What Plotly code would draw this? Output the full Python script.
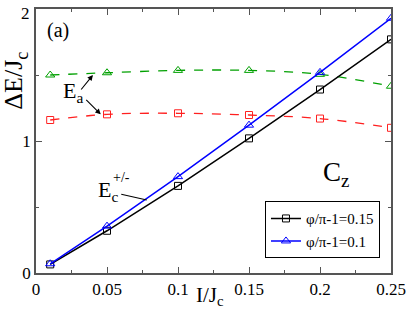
import plotly.graph_objects as go

x_vals = [0.01, 0.05, 0.1, 0.15, 0.2, 0.25]
ec_015 = [0.065, 0.32, 0.66, 1.02, 1.39, 1.77]
ec_01 = [0.07, 0.355, 0.73, 1.12, 1.52, 1.93]
ea_01 = [1.50, 1.517, 1.535, 1.535, 1.505, 1.415]
ea_015 = [1.159, 1.202, 1.21, 1.197, 1.17, 1.10]
legend_names = ["φ/π-1=0.15", "φ/π-1=0.1"]
y_ticks = [0, 1, 2]

FONT = "Liberation Serif, Times New Roman, DejaVu Serif, serif"

fig = go.Figure()
fig.add_trace(go.Scatter(x=x_vals, y=ea_01, mode="lines+markers", showlegend=False,
                         line=dict(color="#00A000", width=1.3, dash="dash", shape="spline"),
                         marker=dict(symbol="triangle-up-open", size=8, color="#00A000")))
fig.add_trace(go.Scatter(x=x_vals, y=ea_015, mode="lines+markers", showlegend=False,
                         line=dict(color="#FF2020", width=1.3, dash="dash", shape="spline"),
                         marker=dict(symbol="square-open", size=7, color="#FF2020")))
fig.add_trace(go.Scatter(x=x_vals, y=ec_015, mode="lines+markers", name=legend_names[0],
                         line=dict(color="black", width=1.5),
                         marker=dict(symbol="square-open", size=7, color="black")))
fig.add_trace(go.Scatter(x=x_vals, y=ec_01, mode="lines+markers", name=legend_names[1],
                         line=dict(color="blue", width=1.5),
                         marker=dict(symbol="triangle-up-open", size=8, color="blue")))

axis_common = dict(showgrid=False, zeroline=False, showline=True, linecolor="#555555",
                   linewidth=1.5, mirror="ticks", ticks="inside", ticklen=6,
                   tickcolor="#555555", ticklabeloverflow="allow",
                   tickfont=dict(family=FONT, size=17, color="black"))

fig.update_layout(
    width=409, height=311,
    margin=dict(l=36, r=18, t=9, b=38, autoexpand=False),
    paper_bgcolor="white", plot_bgcolor="white",
    font=dict(family=FONT, color="black"),
    xaxis=dict(range=[0, 0.25], tickvals=[0, 0.05, 0.1, 0.15, 0.2, 0.25],
               ticktext=["0", "0.05", "0.1", "0.15", "0.2", "0.25"],
               minor=dict(dtick=0.025, ticks="inside", ticklen=3, tickcolor="#555555"),
               **axis_common),
    yaxis=dict(range=[0, 2], tickvals=y_ticks, ticktext=[str(v) for v in y_ticks[:-1]] + [""],
               minor=dict(dtick=0.5, ticks="inside", ticklen=3, tickcolor="#555555"),
               **axis_common),
    legend=dict(x=0.645, y=0.272, xanchor="left", yanchor="top",
                bordercolor="black", borderwidth=1, bgcolor="white",
                font=dict(family=FONT, size=15), itemwidth=30,
                tracegroupgap=0),
    showlegend=True,
)

ann = []
# top y tick label, drawn as text just below the top edge so it is not clipped
ann.append(dict(text=str(y_ticks[-1]), xref="paper", yref="paper", x=-0.012, y=1.0,
                showarrow=False, font=dict(size=17, family=FONT, color="black"),
                xanchor="right", yanchor="middle", yshift=-4))
ann.append(dict(text="ΔE/J<sub>c</sub>", xref="paper", yref="paper", x=-0.058, y=0.73,
                textangle=-90, showarrow=False, font=dict(size=26, family=FONT),
                xanchor="center", yanchor="middle"))
ann.append(dict(text="I/J<sub>c</sub>", xref="paper", yref="paper", x=0.49, y=-0.03,
                showarrow=False, font=dict(size=21, family=FONT),
                xanchor="center", yanchor="top"))
ann.append(dict(text="(a)", xref="paper", yref="paper", x=0.025, y=0.92,
                showarrow=False, font=dict(size=20, family=FONT), xanchor="left", yanchor="middle"))
ann.append(dict(text="C<sub>z</sub>", xref="paper", yref="paper", x=0.845, y=0.375,
                showarrow=False, font=dict(size=27, family=FONT), xanchor="center", yanchor="middle"))
ann.append(dict(text="E<sub>a</sub>", x=0.026, y=1.37, showarrow=False,
                font=dict(size=22, family=FONT), xanchor="center", yanchor="middle"))
ann.append(dict(x=0.0401, y=1.50, ax=-13, ay=16, text="", showarrow=True,
                arrowhead=2, arrowsize=1, arrowwidth=1.1, arrowcolor="black"))
ann.append(dict(x=0.0456, y=1.202, ax=-16, ay=-16, text="", showarrow=True,
                arrowhead=2, arrowsize=1, arrowwidth=1.1, arrowcolor="black"))
ann.append(dict(text="E<sub>c</sub>", x=0.051, y=0.62, showarrow=False,
                font=dict(size=22, family=FONT), xanchor="center", yanchor="middle"))
ann.append(dict(text="+/-", x=0.0605, y=0.72, showarrow=False,
                font=dict(size=14, family=FONT), xanchor="center", yanchor="middle"))
ann.append(dict(x=0.078, y=0.553, ax=-27, ay=-6, text="", showarrow=True,
                arrowhead=0, arrowwidth=1.1, arrowcolor="black"))
fig.update_layout(annotations=ann)

fig.write_html("out.html", config={"displayModeBar": False},
               post_script="document.body.style.margin='0';document.body.style.overflow='hidden';")
